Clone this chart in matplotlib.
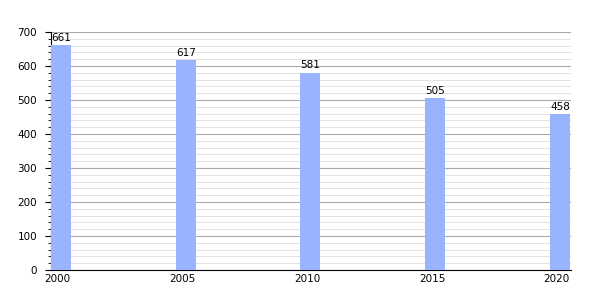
import matplotlib
matplotlib.use('Agg')
import matplotlib.pyplot as plt
from matplotlib.ticker import MultipleLocator

years = [2000, 2005, 2010, 2015, 2020]
values = [661, 617, 581, 505, 458]

fig = plt.figure(figsize=(6, 3), dpi=100)
ax = fig.add_axes([0.085, 0.1, 0.867, 0.793])

w = 0.8
ax.bar([y + w / 2 for y in years], values, width=w, color='#99b3ff', zorder=3)
for y, v in zip(years, values):
    ax.text(y + w / 2, v + 8, str(v), ha='center', va='bottom', fontsize=7.5, zorder=4)

ax.set_xlim(2000, 2020 + w + 0.05)
ax.set_ylim(0, 700)
ax.set_xticks([y + 0.27 for y in years])
ax.set_xticklabels([str(y) for y in years], fontsize=7.5)
ax.tick_params(axis='x', length=0, pad=3)
ax.yaxis.set_major_locator(MultipleLocator(100))
ax.yaxis.set_minor_locator(MultipleLocator(20))
ax.tick_params(axis='y', which='major', length=4, labelsize=7.5, pad=6)
ax.tick_params(axis='y', which='minor', length=2)
ax.grid(axis='y', which='major', color='#aaaaaa', linewidth=0.8, zorder=0)
ax.grid(axis='y', which='minor', color='#dddddd', linewidth=0.6, zorder=0)
for s in ['top', 'right']:
    ax.spines[s].set_visible(False)

fig.savefig('out.png', dpi=100)
